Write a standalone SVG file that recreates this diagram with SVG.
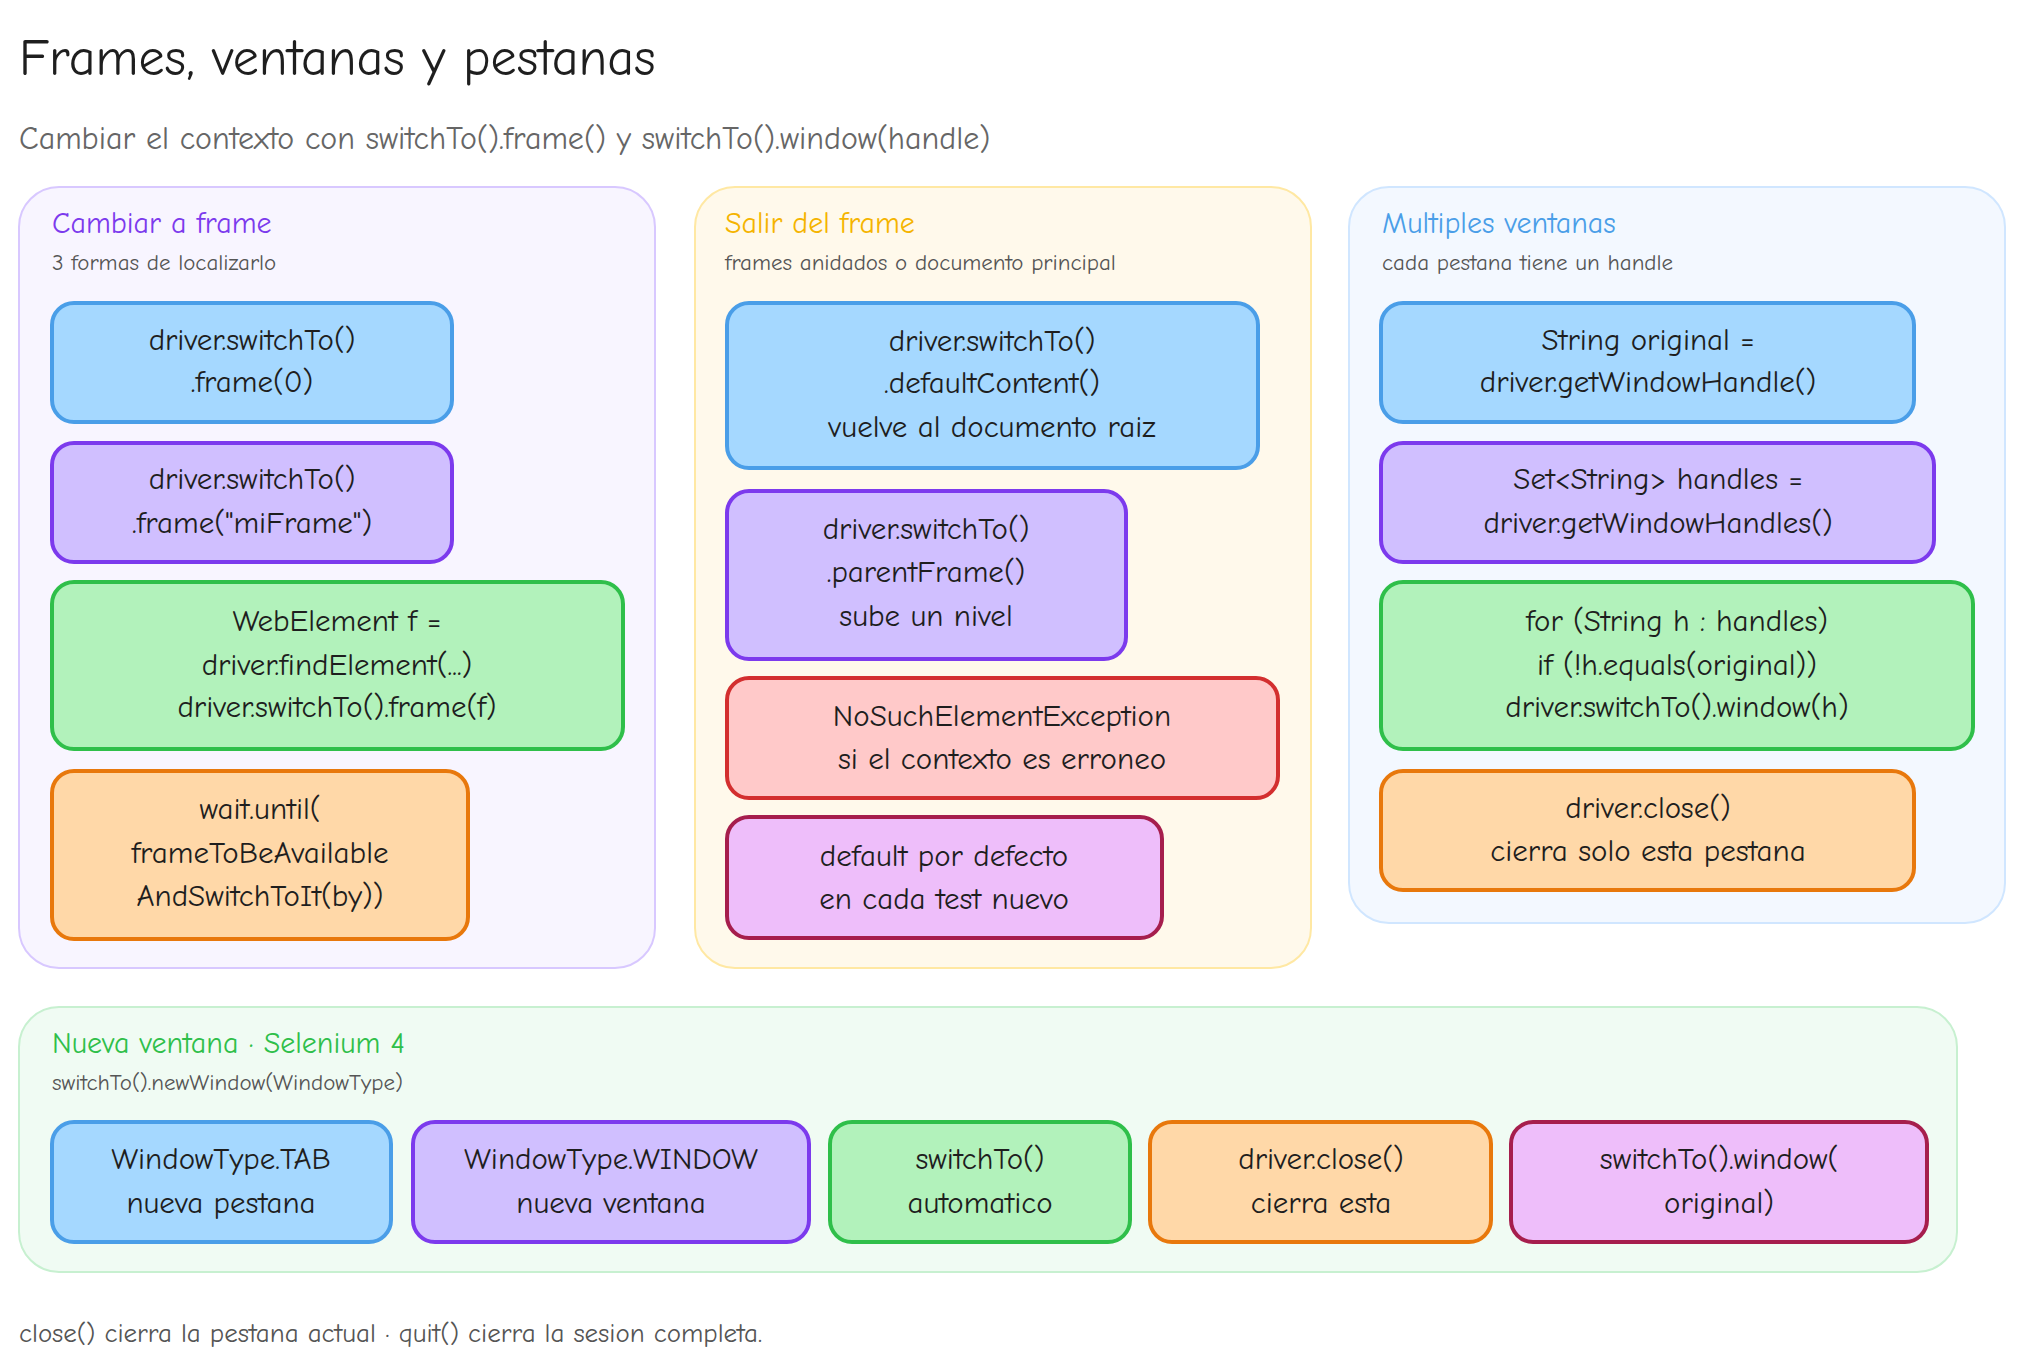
<svg xmlns="http://www.w3.org/2000/svg" width="2024" height="1371" viewBox="0 0 2024 1371">
<style>
text{font-family:"Comic Neue","Liberation Sans","DejaVu Sans",sans-serif;fill:#1e1e1e;dominant-baseline:central}
.t{font-size:31px;text-anchor:middle}
.h{font-size:30px}
.s{font-size:23px;fill:#555}
.b{rx:22;stroke-width:4}
.blue{fill:#a5d8ff;stroke:#4a9ee8}
.vio{fill:#d0bfff;stroke:#7c3aed}
.grn{fill:#b2f2bb;stroke:#2fbf4a}
.org{fill:#ffd8a8;stroke:#e8780c}
.red{fill:#ffc9c9;stroke:#d32f2f}
.pnk{fill:#eebefa;stroke:#a61e4d}
.p{rx:40;stroke-width:2}
</style>
<rect width="2024" height="1371" fill="#ffffff"/>
<text x="19" y="58" style="font-size:52px">Frames, ventanas y pestanas</text>
<text x="19" y="138" style="font-size:32px;fill:#666">Cambiar el contexto con switchTo().frame() y switchTo().window(handle)</text>

<g id="panel-frame">
<rect class="p" x="19" y="187" width="636" height="781" fill="#f8f5ff" stroke="#d8c8ff"/>
<text class="h" x="52" y="223" fill="#7c3aed" style="fill:#7c3aed">Cambiar a frame</text>
<text class="s" x="52" y="262">3 formas de localizarlo</text>
</g>
<g id="a1"><rect class="b blue" x="52" y="303" width="400" height="119"/><text class="t" x="252" y="340">driver.switchTo()</text><text class="t" x="252" y="382">.frame(0)</text></g>
<g id="a2"><rect class="b vio" x="52" y="443" width="400" height="119"/><text class="t" x="252" y="479">driver.switchTo()</text><text class="t" x="252" y="523">.frame("miFrame")</text></g>
<g id="a3"><rect class="b grn" x="52" y="582" width="571" height="167"/><text class="t" x="337" y="621">WebElement f =</text><text class="t" x="337" y="665">driver.findElement(...)</text><text class="t" x="337" y="707">driver.switchTo().frame(f)</text></g>
<g id="a4"><rect class="b org" x="52" y="771" width="416" height="168"/><text class="t" x="260" y="809">wait.until(</text><text class="t" x="260" y="853">frameToBeAvailable</text><text class="t" x="260" y="896">AndSwitchToIt(by))</text></g>

<g id="panel-salir">
<rect class="p" x="695" y="187" width="616" height="781" fill="#fff9eb" stroke="#ffe8a3"/>
<text class="h" x="725" y="223" style="fill:#f5b400">Salir del frame</text>
<text class="s" x="725" y="262">frames anidados o documento principal</text>
</g>
<g id="c1"><rect class="b blue" x="727" y="303" width="531" height="165"/><text class="t" x="992" y="341">driver.switchTo()</text><text class="t" x="992" y="383">.defaultContent()</text><text class="t" x="992" y="427">vuelve al documento raiz</text></g>
<g id="c2"><rect class="b vio" x="727" y="491" width="399" height="168"/><text class="t" x="926" y="529">driver.switchTo()</text><text class="t" x="926" y="572">.parentFrame()</text><text class="t" x="926" y="616">sube un nivel</text></g>
<g id="c3"><rect class="b red" x="727" y="678" width="551" height="120"/><text class="t" x="1002" y="716">NoSuchElementException</text><text class="t" x="1002" y="759">si el contexto es erroneo</text></g>
<g id="c4"><rect class="b pnk" x="727" y="817" width="435" height="121"/><text class="t" x="944" y="856">default por defecto</text><text class="t" x="944" y="899">en cada test nuevo</text></g>

<g id="panel-ventanas">
<rect class="p" x="1349" y="187" width="656" height="736" fill="#f3f8ff" stroke="#d0e6ff"/>
<text class="h" x="1382" y="223" style="fill:#4a9ee8">Multiples ventanas</text>
<text class="s" x="1382" y="262">cada pestana tiene un handle</text>
</g>
<g id="d1"><rect class="b blue" x="1381" y="303" width="533" height="119"/><text class="t" x="1648" y="340">String original =</text><text class="t" x="1648" y="382">driver.getWindowHandle()</text></g>
<g id="d2"><rect class="b vio" x="1381" y="443" width="553" height="119"/><text class="t" x="1658" y="479">Set&lt;String&gt; handles =</text><text class="t" x="1658" y="523">driver.getWindowHandles()</text></g>
<g id="d3"><rect class="b grn" x="1381" y="582" width="592" height="167"/><text class="t" x="1677" y="621">for (String h : handles)</text><text class="t" x="1677" y="665">if (!h.equals(original))</text><text class="t" x="1677" y="707">driver.switchTo().window(h)</text></g>
<g id="d4"><rect class="b org" x="1381" y="771" width="533" height="119"/><text class="t" x="1648" y="808">driver.close()</text><text class="t" x="1648" y="851">cierra solo esta pestana</text></g>

<g id="panel-nueva">
<rect class="p" x="19" y="1007" width="1938" height="265" fill="#f0fbf3" stroke="#c7f0d0"/>
<text class="h" x="52" y="1043" style="fill:#2fbf4a">Nueva ventana · Selenium 4</text>
<text class="s" x="52" y="1082">switchTo().newWindow(WindowType)</text>
</g>
<g id="e1"><rect class="b blue" x="52" y="1122" width="339" height="120"/><text class="t" x="221" y="1159">WindowType.TAB</text><text class="t" x="221" y="1203">nueva pestana</text></g>
<g id="e2"><rect class="b vio" x="413" y="1122" width="396" height="120"/><text class="t" x="611" y="1159">WindowType.WINDOW</text><text class="t" x="611" y="1203">nueva ventana</text></g>
<g id="e3"><rect class="b grn" x="830" y="1122" width="300" height="120"/><text class="t" x="980" y="1159">switchTo()</text><text class="t" x="980" y="1203">automatico</text></g>
<g id="e4"><rect class="b org" x="1150" y="1122" width="341" height="120"/><text class="t" x="1321" y="1159">driver.close()</text><text class="t" x="1321" y="1203">cierra esta</text></g>
<g id="e5"><rect class="b pnk" x="1511" y="1122" width="416" height="120"/><text class="t" x="1719" y="1159">switchTo().window(</text><text class="t" x="1719" y="1203">original)</text></g>

<g id="connectors"></g>
<text x="19" y="1333" style="font-size:27px;fill:#555">close() cierra la pestana actual · quit() cierra la sesion completa.</text>
</svg>
